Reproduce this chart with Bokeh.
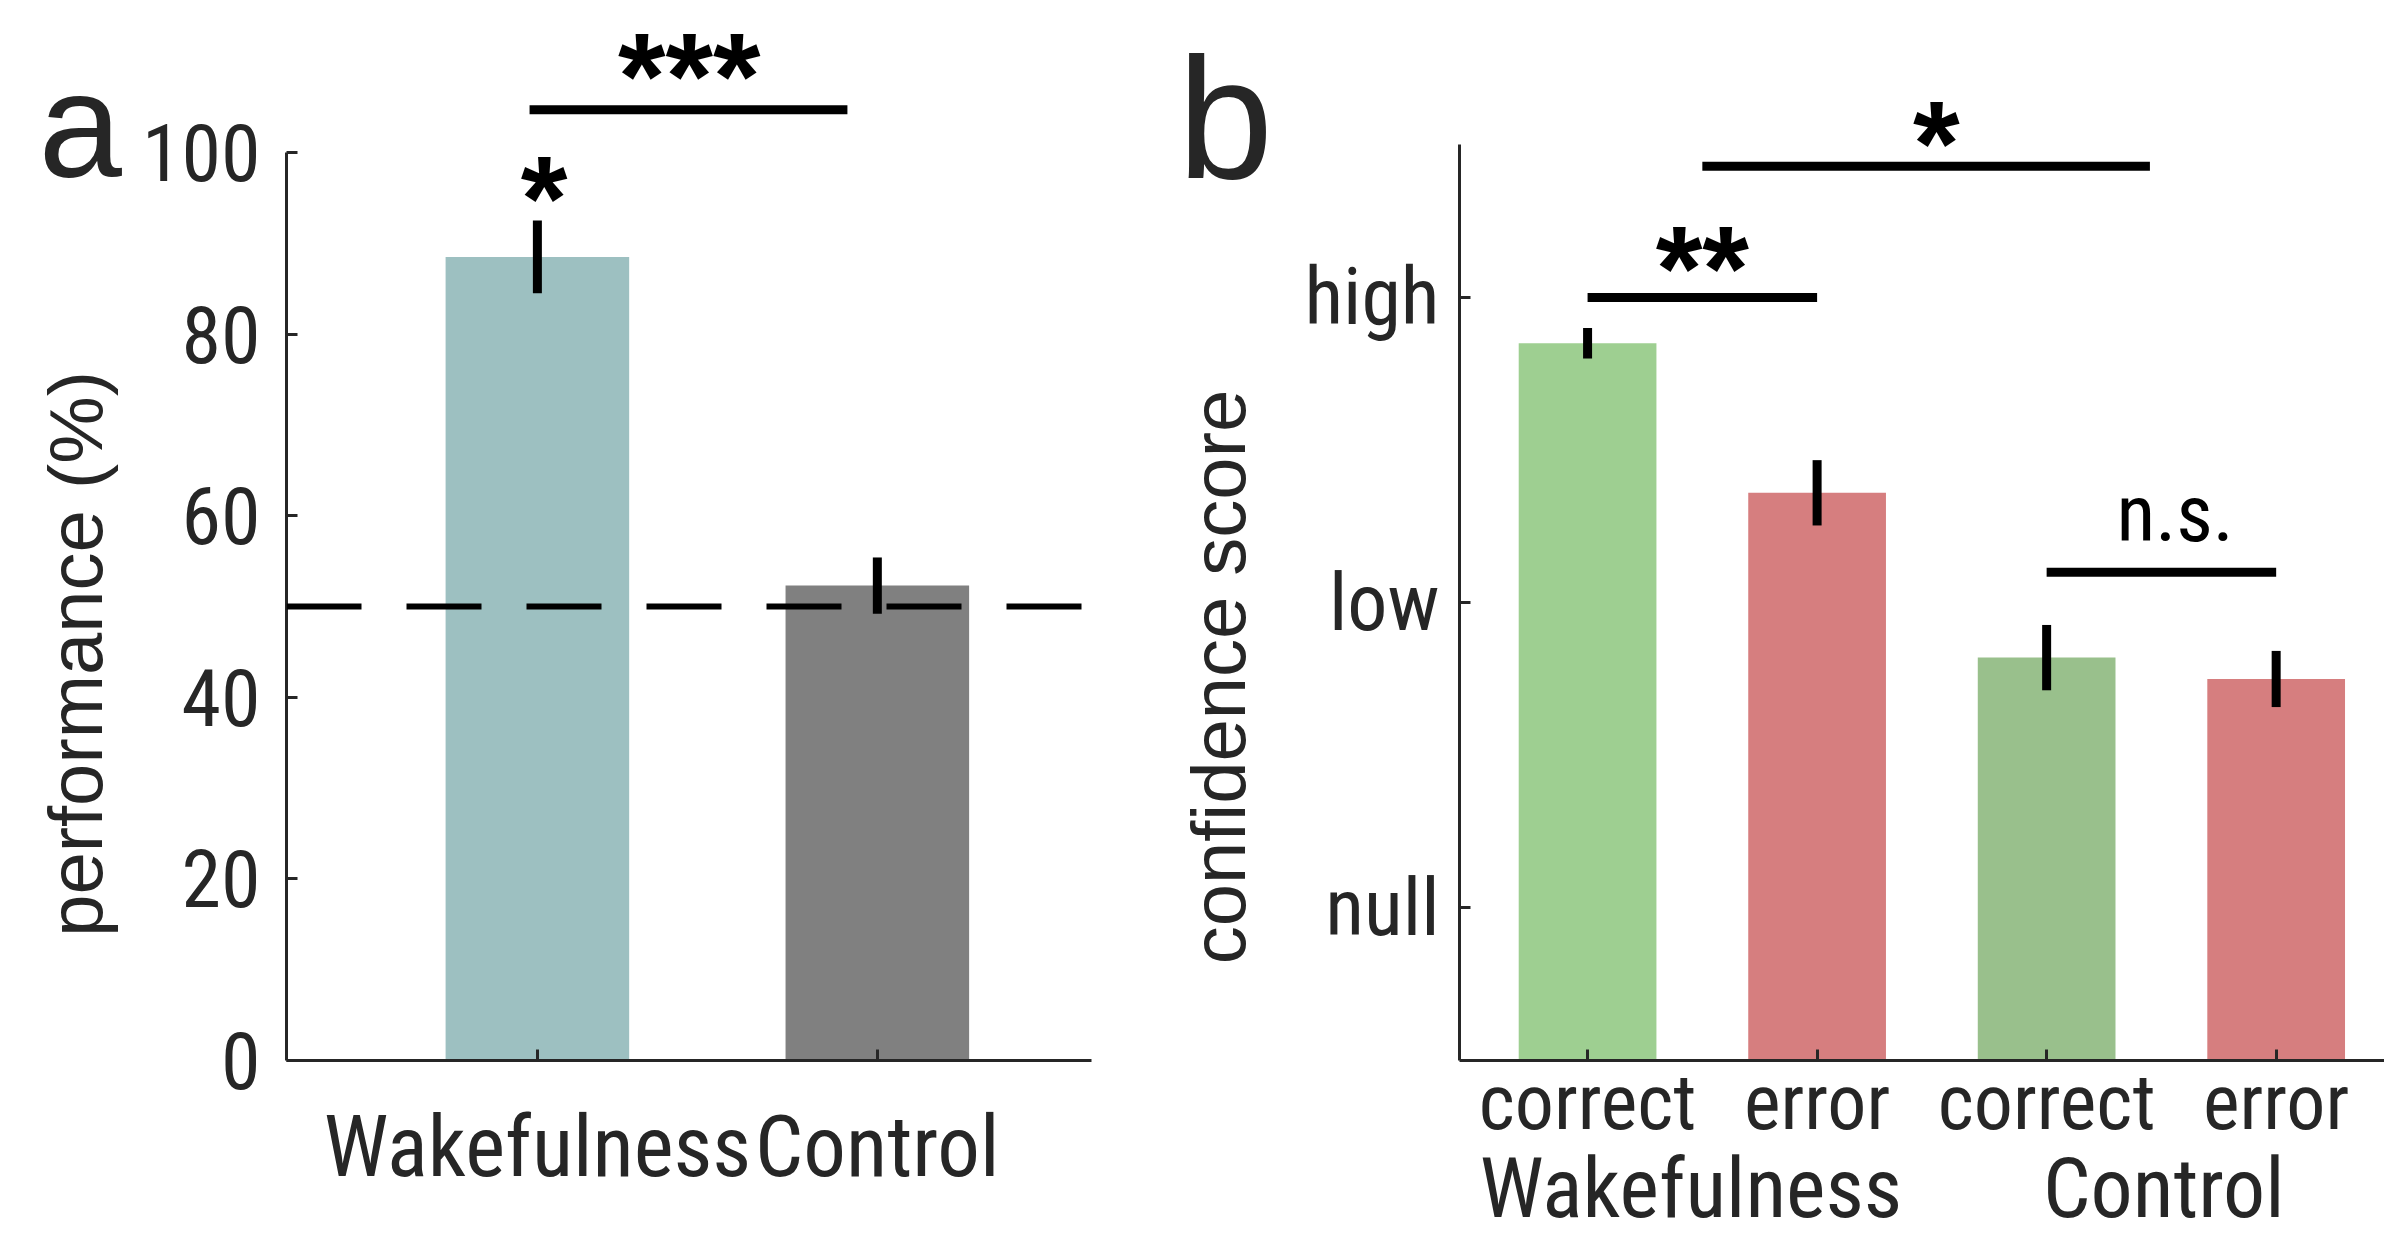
from bokeh.plotting import figure
from bokeh.layouts import row, column
from bokeh.models import Range1d, FixedTicker, Span
from bokeh.embed import file_html
from bokeh.resources import INLINE
from bokeh.core.properties import value

# ---------------- data ----------------
# panel a
a_groups = ["Wakefulness", "Control"]
a_x = [1, 2]
a_means = [88.5, 52.3]
a_errs = [4.0, 3.1]
a_colors = ["#9dc0c1", "#808080"]
a_chance = 50
a_yticks = [0, 20, 40, 60, 80, 100]
a_ylabel = "performance (%)"
# significance panel a
a_sig_x0 = [0.977]
a_sig_x1 = [1.912]
a_sig_y = [104.7]
a_sig_text = ["***"]
a_sig_tx = [1.447]
a_sig_ty = [108.4]
a_star_x = [1.02]
a_star_y = [95.0]
a_star_text = ["*"]

# panel b
b_conditions = ["correct", "error", "correct", "error"]
b_x = [1, 2, 3, 4]
b_means = [1.85, 1.36, 0.82, 0.75]
b_errs = [0.05, 0.107, 0.107, 0.092]
b_colors = ["#9ecf91", "#d67e7f", "#99c08c", "#d67e7f"]
b_groups = ["Wakefulness", "Control"]
b_group_x = [1.45, 3.51]
b_yticks = [0, 1, 2]
b_ytick_labels = ["null", "low", "high"]
b_ylabel = "confidence score"
b_sig_x0 = [1.0, 1.5, 3.0]
b_sig_x1 = [2.0, 3.45, 4.0]
b_sig_y = [2.0, 2.43, 1.10]
b_sig_text = ["**", "*", "n.s."]
b_sig_tx = [1.5, 2.52, 3.56]
b_sig_ty = [2.095, 2.506, 1.29]

# ---------------- style ----------------
COND = "Roboto Condensed, DejaVu Sans Condensed, Liberation Sans Narrow, Liberation Sans"
REG = "Liberation Sans"
AX = "#262626"
H = 1233


def style_common(p):
    p.xgrid.visible = False
    p.ygrid.visible = False
    p.outline_line_color = None
    p.background_fill_color = "white"
    p.border_fill_color = "white"
    for ax in (p.xaxis[0], p.yaxis[0]):
        ax.axis_line_width = 3
        ax.axis_line_color = AX
        ax.major_tick_line_color = AX
        ax.major_tick_line_width = 3
        ax.major_tick_in = 11
        ax.major_tick_out = 0
        ax.minor_tick_line_color = None
        ax.major_label_text_font = COND
        ax.major_label_text_color = AX


def blank(width, height, xr, yr, min_left=0):
    f = figure(width=width, height=height, x_range=xr, y_range=yr,
               x_axis_type=None, y_axis_type=None,
               output_backend="svg", toolbar_location=None,
               min_border_left=min_left, min_border_right=0,
               min_border_top=0, min_border_bottom=0)
    f.xgrid.visible = False
    f.ygrid.visible = False
    f.outline_line_color = None
    f.background_fill_color = "white"
    f.border_fill_color = "white"
    return f


# ---------------- label strip for panel a (pixel coordinates) ----------------
la = blank(130, H, Range1d(0, 130), Range1d(H, 0))
la.text(x=[38], y=[145], text=["a"], text_font=value(REG), text_font_size="150px",
        text_color=AX, text_align="left", text_baseline="alphabetic")
la.text(x=[75], y=[760], text=[a_ylabel], angle=1.5708, text_font=value(REG),
        text_font_size="76px", text_color=AX, text_align="center",
        text_baseline="middle")

# ---------------- panel a ----------------
pa = figure(width=990, height=H,
            x_range=Range1d(0.262, 2.63), y_range=Range1d(0, 116.74),
            output_backend="svg", toolbar_location=None,
            min_border_left=156, min_border_right=29,
            min_border_top=0, min_border_bottom=173)
style_common(pa)
pa.vbar(x=a_x, top=a_means, bottom=0, width=0.54, fill_color=a_colors, line_color=None)
pa.add_layout(Span(location=a_chance, dimension="width", line_color="black",
                   line_width=6, line_dash="75 45"))
pa.segment(x0=a_x, x1=a_x,
           y0=[m - e for m, e in zip(a_means, a_errs)],
           y1=[m + e for m, e in zip(a_means, a_errs)],
           line_color="black", line_width=9, line_cap="butt")
pa.segment(x0=a_sig_x0, x1=a_sig_x1, y0=a_sig_y, y1=a_sig_y,
           line_color="black", line_width=9, line_cap="butt")
pa.text(x=a_sig_tx, y=a_sig_ty, text=a_sig_text, text_font=value(REG),
        text_font_style="bold", text_font_size="122px", text_align="center",
        text_baseline="alphabetic", text_color="black")
pa.text(x=a_star_x, y=a_star_y, text=a_star_text, text_font=value(REG),
        text_font_style="bold", text_font_size="120px", text_align="center",
        text_baseline="alphabetic", text_color="black")

pa.yaxis.ticker = FixedTicker(ticks=a_yticks)
pa.yaxis.bounds = (0, 100)
pa.yaxis.major_label_text_font_size = "80px"
pa.yaxis.major_label_standoff = 26
pa.xaxis.ticker = FixedTicker(ticks=a_x)
pa.xaxis.major_label_overrides = {x: g for x, g in zip(a_x, a_groups)}
pa.xaxis.major_label_text_font_size = "85px"
pa.xaxis.major_label_standoff = 36

# ---------------- label strip for panel b (pixel coordinates) ----------------
lb = blank(180, H, Range1d(1120, 1300), Range1d(H, 0))
lb.text(x=[1177], y=[137], text=["b"], text_font=value(REG), text_font_size="172px",
        text_color=AX, text_align="left", text_baseline="alphabetic")
lb.text(x=[1218], y=[787], text=[b_ylabel], angle=1.5708, text_font=value(REG),
        text_font_size="76px", text_color=AX, text_align="center",
        text_baseline="middle")

# ---------------- panel b ----------------
PB_H = 1150
pb = figure(width=1084, height=PB_H,
            x_range=Range1d(0.442, 4.472), y_range=Range1d(-0.5, 2.973),
            output_backend="svg", toolbar_location=None,
            min_border_left=159, min_border_right=0,
            min_border_top=0, min_border_bottom=PB_H - 1060)
style_common(pb)
pb.vbar(x=b_x, top=b_means, bottom=-0.5, width=0.6, fill_color=b_colors, line_color=None)
pb.segment(x0=b_x, x1=b_x,
           y0=[m - e for m, e in zip(b_means, b_errs)],
           y1=[m + e for m, e in zip(b_means, b_errs)],
           line_color="black", line_width=9, line_cap="butt")
pb.segment(x0=b_sig_x0, x1=b_sig_x1, y0=b_sig_y, y1=b_sig_y,
           line_color="black", line_width=9, line_cap="butt")
pb.text(x=b_sig_tx[:2], y=b_sig_ty[:2], text=b_sig_text[:2], text_font=value(REG),
        text_font_style="bold", text_font_size="120px", text_align="center",
        text_baseline="alphabetic", text_color="black")
pb.text(x=b_sig_tx[2:], y=b_sig_ty[2:], text=b_sig_text[2:], text_font=value(COND),
        text_font_size="80px", text_align="center",
        text_baseline="alphabetic", text_color="black")

pb.yaxis.ticker = FixedTicker(ticks=b_yticks)
pb.yaxis.major_label_overrides = {t: l for t, l in zip(b_yticks, b_ytick_labels)}
pb.yaxis.bounds = (-0.5, 2.5)
pb.yaxis.major_label_text_font_size = "80px"
pb.yaxis.major_label_standoff = 20
pb.xaxis.ticker = FixedTicker(ticks=b_x)
pb.xaxis.major_label_overrides = {x: c for x, c in zip(b_x, b_conditions)}
pb.xaxis.major_label_text_font_size = "78px"
pb.xaxis.major_label_standoff = -4

# group labels strip under panel b (shares x range; y in pixels)
pg = blank(1084, H - PB_H, pb.x_range, Range1d(H, PB_H), min_left=159)
pg.text(x=b_group_x, y=[1188, 1188], text=b_groups, text_font=value(COND),
        text_font_size="84px", text_color=AX, text_align="center",
        text_baseline="alphabetic")

layout = row(la, pa, lb, column(pb, pg, spacing=0), spacing=0)
open("out.html", "w").write(file_html(layout, INLINE))
